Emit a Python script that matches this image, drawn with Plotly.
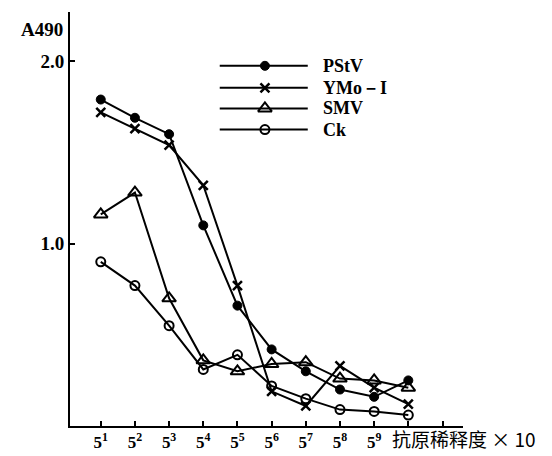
import plotly.graph_objects as go

dilution_pos = [1, 2, 3, 4, 5, 6, 7, 8, 9, 10]
tick_positions = [1, 2, 3, 4, 5, 6, 7, 8, 9, 10, 11]
tick_labels = ["<b>5<sup>1</sup></b>", "<b>5<sup>2</sup></b>", "<b>5<sup>3</sup></b>", "<b>5<sup>4</sup></b>",
               "<b>5<sup>5</sup></b>", "<b>5<sup>6</sup></b>", "<b>5<sup>7</sup></b>", "<b>5<sup>8</sup></b>",
               "<b>5<sup>9</sup></b>", "", ""]

pstv = [1.79, 1.69, 1.60, 1.10, 0.66, 0.42, 0.30, 0.20, 0.16, 0.25]
ymo = [1.72, 1.63, 1.54, 1.32, 0.77, 0.19, 0.11, 0.33, 0.21, 0.12]
smv = [1.16, 1.28, 0.70, 0.36, 0.30, 0.34, 0.35, 0.26, 0.25, 0.21]
ck = [0.90, 0.77, 0.55, 0.31, 0.39, 0.22, 0.15, 0.09, 0.08, 0.06]

names = ["PStV", "YMo－I", "SMV", "Ck"]
series = [pstv, ymo, smv, ck]
markers = [
    dict(symbol="circle", size=9, color="black", line=dict(color="black", width=1)),
    dict(symbol="x-thin", size=9, color="black", line=dict(color="black", width=2.5)),
    dict(symbol="triangle-up-open", size=12, color="black", line=dict(color="black", width=2)),
    dict(symbol="circle-open", size=9, color="black", line=dict(color="black", width=2)),
]

SERIF = "Liberation Serif"
fig = go.Figure()
for nm, ys, mk in zip(names, series, markers):
    fig.add_trace(go.Scatter(
        x=dilution_pos, y=ys, mode="lines+markers", name=nm,
        line=dict(color="black", width=2), marker=mk, showlegend=False,
        cliponaxis=False,
    ))

# custom legend (long lines with centered marker)
leg_y = [0.870, 0.817, 0.767, 0.716]
for nm, mk, ly in zip(names, markers, leg_y):
    fig.add_shape(type="line", xref="paper", yref="paper", x0=0.381, x1=0.605, y0=ly, y1=ly,
                  line=dict(color="black", width=2))
    fig.add_trace(go.Scatter(x=[0.496], y=[ly], mode="markers", marker=mk, xaxis="x2", yaxis="y2",
                             showlegend=False, hoverinfo="skip", cliponaxis=False))
    fig.add_annotation(x=0.638, y=ly, xref="paper", yref="paper", text="<b>%s</b>" % nm,
                       showarrow=False, xanchor="left", yanchor="middle",
                       font=dict(family=SERIF, size=18, color="black"))

fig.add_annotation(x=-0.012, y=0.957, xref="paper", yref="paper", text="<b>A490</b>",
                   showarrow=False, xanchor="right", yanchor="middle",
                   font=dict(family=SERIF, size=19, color="black"))
fig.add_annotation(x=0.814, y=-0.029, xref="paper", yref="paper", text="抗原稀释度 × 10",
                   showarrow=False, xanchor="left", yanchor="middle",
                   font=dict(family="Noto Sans CJK SC", size=19, color="black"))

fig.update_layout(
    width=544, height=448,
    margin=dict(l=62, r=89, t=4, b=28),
    paper_bgcolor="white", plot_bgcolor="white",
    font=dict(family=SERIF, color="black"),
    xaxis=dict(range=[0.1, 11.6], tickmode="array", tickvals=tick_positions, ticktext=tick_labels,
               ticks="inside", ticklen=5, tickwidth=2, tickcolor="black",
               showline=True, linecolor="black", linewidth=2, showgrid=False, zeroline=False,
               tickfont=dict(family=SERIF, size=17, color="black")),
    yaxis=dict(range=[0, 2.27], tickmode="array", tickvals=[1.0, 2.0], ticktext=["<b>1.0</b>", "<b>2.0</b>"],
               ticks="inside", ticklen=5, tickwidth=2, tickcolor="black",
               showline=True, linecolor="black", linewidth=2, showgrid=False, zeroline=False,
               tickfont=dict(family=SERIF, size=19, color="black")),
    xaxis2=dict(range=[0, 1], overlaying="x", visible=False, domain=[0, 1]),
    yaxis2=dict(range=[0, 1], overlaying="y", visible=False),
)

fig.write_html("out.html")
